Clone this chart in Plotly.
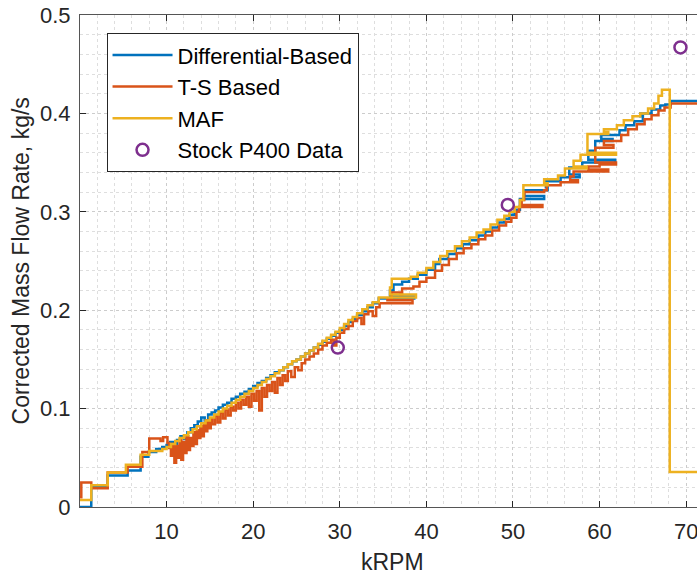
import plotly.graph_objs as go

# (kRPM, corrected mass flow kg/s), stepwise traces
diff_pts = [
    (0, 0.000), (1.3, 0.020), (3.2, 0.032), (5.5, 0.037), (7.0, 0.051), (7.9, 0.056),
    (8.8, 0.059), (9.5, 0.061), (10.0, 0.063), (10.4, 0.066), (10.8, 0.061), (11.2, 0.068),
    (11.6, 0.072), (12.0, 0.069), (12.4, 0.076), (12.8, 0.080), (13.2, 0.083), (13.6, 0.087),
    (14.0, 0.091), (14.4, 0.088), (14.8, 0.094), (15.2, 0.096), (15.6, 0.098), (16.0, 0.101),
    (16.5, 0.104), (17.0, 0.106), (17.5, 0.110), (18.0, 0.112), (18.5, 0.115), (19.0, 0.117),
    (19.5, 0.120), (20.0, 0.123), (20.5, 0.126), (21.0, 0.128), (21.5, 0.131), (22.0, 0.134),
    (22.5, 0.137), (23.0, 0.139), (23.5, 0.142), (24.0, 0.145), (24.5, 0.148), (25.0, 0.150),
    (25.5, 0.153), (26.0, 0.156), (26.5, 0.159), (27.0, 0.162), (27.5, 0.165), (28.0, 0.168),
    (28.5, 0.171), (29.0, 0.174), (29.5, 0.177), (30.0, 0.180), (30.5, 0.184), (31.0, 0.188),
    (31.5, 0.191), (32.0, 0.195), (32.6, 0.199), (33.2, 0.203), (33.8, 0.207), (34.5, 0.212),
    (38.6, 0.214), (35.8, 0.220), (36.2, 0.226), (37.2, 0.229), (38.0, 0.232), (39.0, 0.236),
    (40.0, 0.241), (41.0, 0.247), (41.5, 0.252), (42.5, 0.257), (43.4, 0.263), (44.2, 0.267),
    (45.0, 0.271), (46.0, 0.276), (46.8, 0.280), (47.5, 0.284), (48.3, 0.289), (49.0, 0.293),
    (49.6, 0.297), (50.2, 0.302), (50.8, 0.313), (53.6, 0.316), (51.3, 0.322), (54.0, 0.325),
    (53.8, 0.331), (55.5, 0.335), (57.7, 0.338), (56.5, 0.345), (58.0, 0.350), (61.8, 0.353),
    (58.7, 0.362), (59.5, 0.372), (61.5, 0.374), (60.2, 0.378), (62.3, 0.383), (63.0, 0.388),
    (64.0, 0.392), (65.0, 0.397), (64.7, 0.400), (66.0, 0.404), (67.0, 0.408), (67.6, 0.409),
    (68.2, 0.4127), (71.5, 0.4127),
]

ts_pts = [
    (0, 0.010), (0.15, 0.025), (1.3, 0.019), (3.2, 0.035), (5.5, 0.041), (7.2, 0.056),
    (8.0, 0.0696), (9.3, 0.067), (9.6, 0.071), (10.1, 0.065), (10.3, 0.060), (10.5, 0.052),
    (10.7, 0.064), (10.9, 0.045), (11.1, 0.062), (11.3, 0.050), (11.5, 0.068), (11.7, 0.048),
    (11.9, 0.066), (12.1, 0.055), (12.3, 0.072), (12.5, 0.058), (12.7, 0.070), (12.9, 0.062),
    (13.1, 0.076), (13.3, 0.064), (13.5, 0.078), (13.7, 0.070), (13.9, 0.082), (14.1, 0.072),
    (14.3, 0.085), (14.5, 0.077), (14.7, 0.088), (14.9, 0.080), (15.1, 0.090), (15.3, 0.084),
    (15.6, 0.093), (15.9, 0.086), (16.2, 0.096), (16.5, 0.090), (16.8, 0.099), (17.1, 0.093),
    (17.4, 0.102), (17.7, 0.098), (18.0, 0.106), (18.3, 0.100), (18.6, 0.109), (18.9, 0.104),
    (19.2, 0.112), (19.5, 0.102), (19.8, 0.115), (20.1, 0.108), (20.4, 0.118), (20.7, 0.098),
    (21.0, 0.121), (21.3, 0.112), (21.6, 0.124), (21.9, 0.118), (22.2, 0.127), (22.5, 0.116),
    (22.8, 0.131), (23.1, 0.124), (23.4, 0.134), (23.7, 0.128), (24.0, 0.138), (24.4, 0.132),
    (24.8, 0.142), (25.2, 0.139), (25.6, 0.146), (26.0, 0.150), (26.5, 0.153), (27.0, 0.156),
    (27.5, 0.160), (28.0, 0.164), (28.5, 0.167), (29.0, 0.170), (29.3, 0.164), (29.6, 0.172),
    (30.0, 0.177), (30.5, 0.181), (31.0, 0.184), (31.5, 0.189), (32.0, 0.192), (32.5, 0.186),
    (32.8, 0.196), (33.3, 0.199), (33.8, 0.194), (34.2, 0.203), (34.6, 0.207), (38.4, 0.210),
    (35.5, 0.212), (36.0, 0.218), (37.0, 0.216), (37.2, 0.222), (38.5, 0.224), (39.2, 0.229),
    (40.0, 0.233), (41.0, 0.240), (41.8, 0.246), (42.6, 0.252), (43.5, 0.258), (44.3, 0.263),
    (45.2, 0.267), (46.0, 0.272), (46.8, 0.276), (47.6, 0.281), (48.4, 0.286), (49.2, 0.290),
    (49.8, 0.294), (50.4, 0.300), (50.7, 0.305), (53.4, 0.307), (51.0, 0.312), (51.3, 0.320),
    (53.6, 0.322), (53.9, 0.327), (55.5, 0.330), (57.5, 0.332), (56.6, 0.336), (57.0, 0.341),
    (61.0, 0.343), (58.7, 0.346), (60.0, 0.348), (61.9, 0.350), (59.5, 0.365), (61.6, 0.368),
    (60.5, 0.372), (62.5, 0.378), (63.3, 0.384), (64.3, 0.389), (65.2, 0.394), (66.0, 0.398),
    (66.8, 0.403), (67.5, 0.406), (68.2, 0.410), (71.5, 0.410),
]

maf_pts = [
    (0, 0.007), (1.3, 0.022), (3.2, 0.035), (5.3, 0.043), (7.0, 0.053), (8.0, 0.057),
    (9.5, 0.059), (10.0, 0.061), (10.5, 0.064), (11.0, 0.067), (11.5, 0.070), (12.0, 0.073),
    (12.5, 0.076), (13.0, 0.079), (13.5, 0.082), (14.0, 0.085), (14.5, 0.088), (15.0, 0.091),
    (15.5, 0.094), (16.0, 0.097), (16.5, 0.100), (17.0, 0.103), (17.5, 0.106), (18.0, 0.109),
    (18.5, 0.112), (19.0, 0.115), (19.5, 0.118), (20.0, 0.121), (20.5, 0.124), (21.0, 0.127),
    (21.5, 0.130), (22.0, 0.133), (22.5, 0.136), (23.0, 0.139), (23.5, 0.142), (24.0, 0.145),
    (24.5, 0.148), (25.0, 0.150), (25.5, 0.153), (26.0, 0.156), (26.5, 0.159), (27.0, 0.162),
    (27.5, 0.166), (28.0, 0.169), (28.5, 0.172), (29.0, 0.175), (29.5, 0.178), (30.0, 0.182),
    (30.5, 0.186), (31.0, 0.190), (31.5, 0.193), (32.0, 0.197), (32.6, 0.201), (33.2, 0.205),
    (33.8, 0.208), (34.5, 0.213), (38.8, 0.216), (35.8, 0.223), (36.0, 0.232), (38.2, 0.234),
    (39.0, 0.238), (40.0, 0.243), (40.8, 0.249), (41.6, 0.255), (42.4, 0.260), (43.3, 0.265),
    (44.1, 0.270), (45.0, 0.274), (45.8, 0.279), (46.6, 0.282), (47.4, 0.287), (48.2, 0.292),
    (49.0, 0.296), (49.6, 0.300), (50.2, 0.305), (50.8, 0.312), (51.2, 0.327), (54.0, 0.329),
    (53.6, 0.333), (55.2, 0.337), (56.0, 0.344), (58.5, 0.346), (57.0, 0.352), (57.8, 0.358),
    (61.9, 0.360), (58.6, 0.379), (61.0, 0.381), (60.5, 0.384), (62.0, 0.388), (62.8, 0.393),
    (63.8, 0.397), (64.7, 0.400), (65.6, 0.405), (66.3, 0.410), (66.8, 0.418), (67.2, 0.424),
    (68.1, 0.0356), (71.5, 0.0356),
]

stock_krpm = [29.77, 49.4, 69.34]
stock_flow = [0.162, 0.307, 0.467]

font = 'Liberation Sans, Arial, sans-serif'
ink = '#262626'


def step_trace(pts, name, color):
    xs, ys = zip(*pts)
    return go.Scatter(
        x=list(xs), y=list(ys),
        mode='lines', name=name,
        line=dict(color=color, width=2.5, shape='hv')
    )


trace1 = step_trace(diff_pts, 'Differential-Based', '#0072BD')
trace2 = step_trace(ts_pts, 'T-S Based', '#D95319')
trace3 = step_trace(maf_pts, 'MAF', '#EDB120')
trace4 = go.Scatter(
    x=stock_krpm, y=stock_flow,
    mode='markers', name='Stock P400 Data',
    marker=dict(symbol='circle-open', size=12, color='#7E2F8E', line=dict(width=2.5, color='#7E2F8E'))
)

layout = go.Layout(
    width=697, height=575,
    margin=dict(l=80, r=0, t=15, b=68),
    plot_bgcolor='white', paper_bgcolor='white',
    font=dict(family=font, size=22, color=ink),
    showlegend=True,
    legend=dict(
        x=0.043, y=0.963, xanchor='left', yanchor='top',
        bgcolor='white', bordercolor=ink, borderwidth=1,
        font=dict(family=font, size=22, color='black'),
        itemwidth=60, tracegroupgap=0
    ),
    xaxis=dict(
        range=[0, 71.25], tickmode='array', tickvals=[10, 20, 30, 40, 50, 60, 70],
        ticks='inside', ticklen=6, tickcolor=ink, tickfont=dict(size=22, color=ink),
        showline=True, linecolor='#555555', linewidth=1, mirror='ticks',
        showgrid=True, gridcolor='#cccccc', griddash='dot', gridwidth=1,
        minor=dict(tickmode='linear', tick0=0, dtick=2, showgrid=True,
                   gridcolor='#dedede', griddash='dot', gridwidth=1),
        zeroline=False, automargin=False, ticklabelstandoff=5,
        ticklabeloverflow='allow'
    ),
    yaxis=dict(
        range=[0, 0.5], tickmode='linear', tick0=0, dtick=0.1,
        ticks='inside', ticklen=6, tickcolor=ink, tickfont=dict(size=22, color=ink),
        showline=True, linecolor='#555555', linewidth=1, mirror=False,
        showgrid=True, gridcolor='#cccccc', griddash='dot', gridwidth=1,
        minor=dict(tickmode='linear', tick0=0, dtick=0.02, showgrid=True,
                   gridcolor='#dedede', griddash='dot', gridwidth=1),
        zeroline=False, automargin=False, ticklabelstandoff=4
    ),
    annotations=[
        dict(text='kRPM', xref='paper', yref='paper', x=0.507, y=-0.1125,
             xanchor='center', yanchor='middle', showarrow=False,
             font=dict(family=font, size=23, color=ink)),
        dict(text='Corrected Mass Flow Rate, kg/s', xref='paper', yref='paper',
             x=-0.095, y=0.5, xanchor='center', yanchor='middle', textangle=-90,
             showarrow=False, font=dict(family=font, size=23, color=ink)),
    ]
)

fig = go.Figure(data=[trace1, trace2, trace3, trace4], layout=layout)
# drop the browser's default page margin so the figure sits at the window corner
fig.write_html('out.html', config={'displayModeBar': False},
               post_script="document.body.style.margin='0px';")
